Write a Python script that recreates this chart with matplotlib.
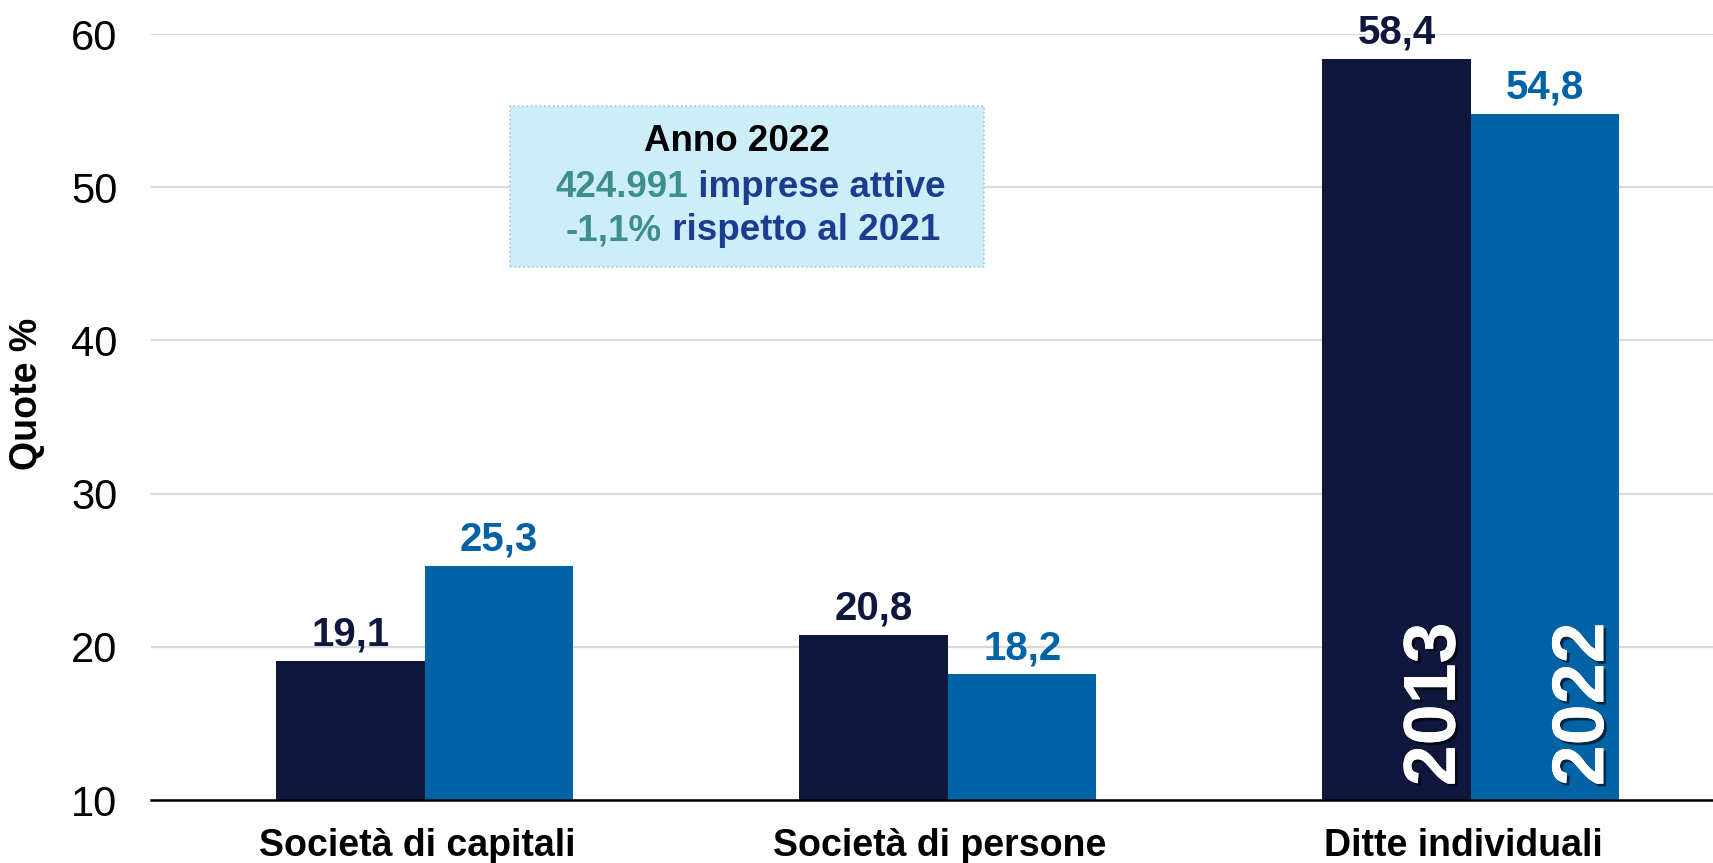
import matplotlib

matplotlib.use("Agg")
import matplotlib.pyplot as plt
import matplotlib.patheffects as pe
import numpy as np
from matplotlib.patches import Rectangle

categories = ["Società di capitali", "Società di persone", "Ditte individuali"]
years = ["2013", "2022"]
quote_2013 = [19.1, 20.8, 58.4]
quote_2022 = [25.3, 18.2, 54.8]
value_labels_2013 = ["19,1", "20,8", "58,4"]
value_labels_2022 = ["25,3", "18,2", "54,8"]
y_ticks = [10, 20, 30, 40, 50, 60]

dark = "#0F173D"
blue = "#0063A6"
teal = "#3E8E8E"
navy = "#1A3D8F"

plt.rcParams["font.family"] = ["Liberation Sans", "DejaVu Sans"]

fig = plt.figure(figsize=(17.13, 8.63), dpi=100)
ax = fig.add_axes([0.0881, 0.073, 0.9119, 0.8876])

x = np.arange(len(categories))
width = 0.284
bars_a = ax.bar(x - width / 2, quote_2013, width, color=dark, zorder=2)
bars_b = ax.bar(x + width / 2, quote_2022, width, color=blue, zorder=2)

for bars, labels, color in ((bars_a, value_labels_2013, dark), (bars_b, value_labels_2022, blue)):
    for bar, label in zip(bars, labels):
        ax.annotate(label, (bar.get_x() + bar.get_width() / 2, bar.get_height()),
                    xytext=(0, 5), textcoords="offset points", ha="center", va="bottom",
                    fontsize=29, fontweight="bold", color=color, clip_on=False)

# etichette degli anni dentro le barre dell'ultima categoria
shadow = [pe.withSimplePatchShadow(offset=(2, -2), shadow_rgbFace="black", alpha=0.6), pe.Normal()]
for bars, year in ((bars_a, years[0]), (bars_b, years[1])):
    bar = bars[-1]
    ax.text(bar.get_x() + bar.get_width() / 2 + 0.074, 10.9, year, rotation=90,
            ha="center", va="bottom", fontsize=53, fontweight="bold", color="white",
            path_effects=shadow, zorder=3)

ax.set_ylim(10, 60)
ax.set_xlim(-0.524, 2.463)
ax.set_yticks(y_ticks)
# le etichette di categoria sono leggermente a sinistra del centro del gruppo
ax.set_xticks(x - 0.015)
ax.set_xticklabels(categories, fontsize=27, fontweight="bold")
ax.tick_params(axis="y", labelsize=30, length=0, pad=24)
ax.tick_params(axis="x", length=0, pad=20)
ax.set_ylabel("Quote %", fontsize=27, fontweight="bold")
ax.yaxis.set_label_coords(-0.068, 0.53)
ax.grid(axis="y", color="#D9D9D9", linewidth=1.6, zorder=0)
ax.set_axisbelow(True)
for side in ("top", "right", "left"):
    ax.spines[side].set_visible(False)
ax.spines["bottom"].set_color("black")
ax.spines["bottom"].set_linewidth(1.8)
ax.spines["bottom"].set_zorder(4)

# riquadro con i totali
ax.add_patch(Rectangle((0.2298, 0.696), 0.3035, 0.21, transform=ax.transAxes,
                       facecolor="#CDEDF9", edgecolor="#A9C8D8", linestyle=":",
                       linewidth=1.2, zorder=1))
ax.text(0.375, 0.86, "Anno 2022", transform=ax.transAxes, ha="center", va="center",
        fontsize=26.5, fontweight="bold", color="black", zorder=3)
ax.text(0.344, 0.8, "424.991", transform=ax.transAxes, ha="right", va="center",
        fontsize=26.5, fontweight="bold", color=teal, zorder=3)
ax.text(0.344, 0.8, " imprese attive", transform=ax.transAxes, ha="left", va="center",
        fontsize=26.5, fontweight="bold", color=navy, zorder=3)
ax.text(0.327, 0.743, "-1,1%", transform=ax.transAxes, ha="right", va="center",
        fontsize=26.5, fontweight="bold", color=teal, zorder=3)
ax.text(0.327, 0.743, " rispetto al 2021", transform=ax.transAxes, ha="left", va="center",
        fontsize=26.5, fontweight="bold", color=navy, zorder=3)

fig.savefig("out.png", dpi=100)
plt.close(fig)
